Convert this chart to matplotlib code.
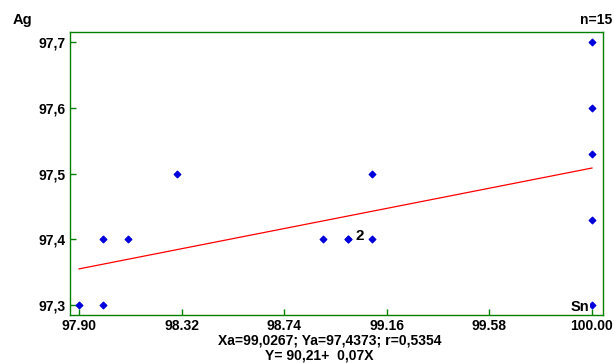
"""Scatter of Ag vs Sn with a linear regression line."""

import matplotlib.pyplot as plt
import numpy as np

plt.rcParams["font.family"] = ["Liberation Sans", "DejaVu Sans"]
plt.rcParams["font.weight"] = "bold"

# measurements (x = Sn, y = Ag); the (99.0, 97.4) point occurs twice
sn = [97.9, 98.0, 98.0, 98.1, 98.3, 98.9, 99.0, 99.0, 99.1, 99.1,
      100.0, 100.0, 100.0, 100.0, 100.0]
ag = [97.3, 97.3, 97.4, 97.4, 97.5, 97.4, 97.4, 97.4, 97.4, 97.5,
      97.7, 97.6, 97.53, 97.43, 97.3]

x_ticks = [97.90, 98.32, 98.74, 99.16, 99.58, 100.00]
x_tick_labels = ["97.90", "98.32", "98.74", "99.16", "99.58", "100.00"]
y_ticks = [97.3, 97.4, 97.5, 97.6, 97.7]
y_tick_labels = ["97,3", "97,4", "97,5", "97,6", "97,7"]

GREEN = "#008000"


def main():
    x = np.array(sn)
    y = np.array(ag)
    slope, intercept = np.polyfit(x, y, 1)
    r = np.corrcoef(x, y)[0, 1]

    fig = plt.figure(figsize=(6.14, 3.63), dpi=100)
    ax = fig.add_axes([0.114, 0.132, 0.868, 0.780])

    line_x = np.array([x.min(), x.max()])
    ax.plot(line_x, intercept + slope * line_x, color="red", linewidth=0.9)
    ax.scatter(x, y, marker="D", s=11, color="#0000dd", zorder=3)
    ax.text(99.03, 97.4045, "2", fontsize=11, fontweight="bold",
            ha="left", va="center")

    ax.set_xlim(97.863, 100.045)
    ax.set_ylim(97.285, 97.715)
    ax.set_xticks(x_ticks)
    ax.set_xticklabels(x_tick_labels)
    ax.set_yticks(y_ticks)
    ax.set_yticklabels(y_tick_labels)
    ax.tick_params(direction="in", length=4, color=GREEN, width=1,
                   labelsize=10, pad=3)
    for spine in ax.spines.values():
        spine.set_color(GREEN)
        spine.set_linewidth(1)

    fig.text(0.02, 0.935, "Ag", fontsize=10.5, fontweight="bold")
    fig.text(0.997, 0.935, "n=15", fontsize=10, fontweight="bold", ha="right")
    ax.text(99.99, 97.287, "Sn", fontsize=10.5, fontweight="bold",
            ha="right", va="bottom",
            bbox=dict(facecolor="white", edgecolor="none", pad=0.5))

    xa, ya = x.mean(), y.mean()
    stats = f"Xa={xa:.4f}; Ya={ya:.4f}; r={r:.4f}".replace(".", ",")
    equation = f"Y= {intercept:.2f}+  {slope:.2f}X".replace(".", ",")
    fig.text(0.537, 0.062, stats, fontsize=10, ha="center", va="center")
    fig.text(0.52, 0.02, equation, fontsize=10, ha="center", va="center")

    fig.savefig("out.png", dpi=100)


if __name__ == "__main__":
    main()
